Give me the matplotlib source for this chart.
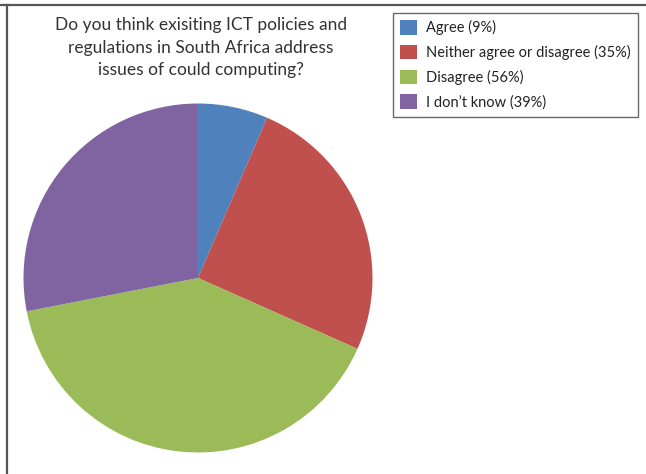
import matplotlib
matplotlib.use("Agg")
import matplotlib.pyplot as plt
from matplotlib.lines import Line2D

categories = ["Agree (9%)", "Neither agree or disagree (35%)", "Disagree (56%)", "I don\u2019t know (39%)"]
values = [9, 35, 56, 39]
colors = ["#4F81BD", "#C0504D", "#9BBB59", "#8064A2"]
title = "Do you think exisiting ICT policies and\nregulations in South Africa address\nissues of could computing?"

W, H = 646, 474
fig = plt.figure(figsize=(W/100, H/100), dpi=100)
plt.rcParams['font.family'] = ['Lato', 'DejaVu Sans']

cx, cy, r = 198, 278, 174.5
ax = fig.add_axes([(cx - r)/W, 1 - (cy + r)/H, 2*r/W, 2*r/H])
wedges, _ = ax.pie(values, colors=colors, startangle=90, counterclock=False, radius=1,
                   wedgeprops=dict(linewidth=0))
ax.set_xlim(-1, 1); ax.set_ylim(-1, 1)
ax.set_aspect('auto')
ax.axis('off')

fig.text(201/W, 1 - 47.5/H, title, ha='center', va='center', fontsize=12.5, color='#333333',
         linespacing=1.5)

leg = fig.legend(wedges, categories, loc='upper left',
                 bbox_to_anchor=(393/W, 1 - 13/H), bbox_transform=fig.transFigure,
                 fontsize=10.5, frameon=True, fancybox=False, edgecolor='#444444',
                 handlelength=1.15, handleheight=1.15, handletextpad=0.6,
                 labelspacing=0.65, borderpad=0.5, borderaxespad=0)
leg.get_frame().set_linewidth(1.0)
for t in leg.get_texts():
    t.set_color('#222222')

fig.add_artist(Line2D([0, 1], [1 - 5/H, 1 - 5/H], color='#555555', linewidth=1.6,
                      transform=fig.transFigure))
fig.add_artist(Line2D([7/W, 7/W], [0, 1 - 5/H], color='#555555', linewidth=1.6,
                      transform=fig.transFigure))

fig.savefig("out.png", dpi=100)
